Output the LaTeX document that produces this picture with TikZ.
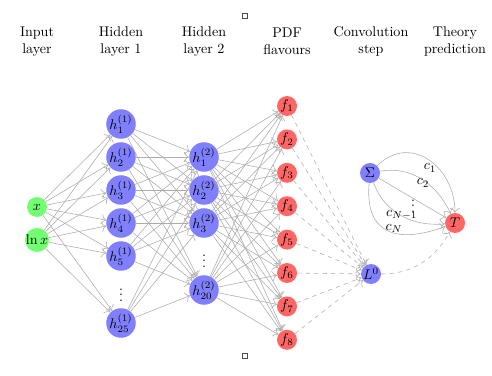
\documentclass[tikz,border=0pt]{standalone}
\usepackage{amsmath,amssymb}
\usepackage{xcolor}
\usetikzlibrary{arrows.meta}

\begin{document}
\begin{tikzpicture}[
  neu/.style={circle, minimum size=5mm, inner sep=0pt},
  inp/.style={neu, fill=green!55},
  hid/.style={circle, minimum size=6.7mm, inner sep=0pt, fill=blue!50},
  pdf/.style={neu, fill=red!60},
  ops/.style={neu, fill=blue!50},
  edge/.style={-{To[length=1.2mm]}, gray!65},
  dedge/.style={edge, dashed},
  head/.style={align=center},
  lbl/.style={inner sep=0pt},
  sqbox/.style={draw=black!70, minimum size=1.3mm, inner sep=0pt, thin}]
\useasboundingbox (0,0) rectangle (12.3,9.375);
% ---- headers ----
\node[head] (tin)   at (0.925,8.34)  {Input\\layer};
\node[head] (th1)   at (3.025,8.34)  {Hidden\\layer 1};
\node[head] (th2)   at (5.1,8.34)    {Hidden\\layer 2};
\node[head] (tpdf)  at (7.175,8.34)  {PDF\\flavours};
\node[head] (tconv) at (9.275,8.34)  {Convolution\\step};
\node[head] (tth)   at (11.375,8.34) {Theory\\prediction};
\node[sqbox] (sqtop) at (6.125,8.975) {};
\node[sqbox] (sqbot) at (6.125,0.475) {};
% ---- input layer ----
\node[inp] (x)   at (0.925,4.2)   {$x$};
\node[inp] (lnx) at (0.925,3.375) {$\ln x$};
% ---- hidden layer 1 ----
\node[hid] (hA1)  at (3.025,6.275) {$h^{(1)}_1$};
\node[hid] (hA2)  at (3.025,5.45)  {$h^{(1)}_2$};
\node[hid] (hA3)  at (3.025,4.625) {$h^{(1)}_3$};
\node[hid] (hA4)  at (3.025,3.8)   {$h^{(1)}_4$};
\node[hid] (hA5)  at (3.025,2.975) {$h^{(1)}_5$};
\node[lbl] (dA) at (3.025,2.1) {$\vdots$};
\node[hid] (hA25) at (3.025,1.3)   {$h^{(1)}_{25}$};
% ---- hidden layer 2 ----
\node[hid] (hB1)  at (5.1,5.45)  {$h^{(2)}_1$};
\node[hid] (hB2)  at (5.1,4.625) {$h^{(2)}_2$};
\node[hid] (hB3)  at (5.1,3.8)   {$h^{(2)}_3$};
\node[lbl] (dB) at (5.1,2.95) {$\vdots$};
\node[hid] (hB20) at (5.1,2.125) {$h^{(2)}_{20}$};
% ---- PDF flavours ----
\node[pdf] (f1) at (7.175,6.725) {$f_1$};
\node[pdf] (f2) at (7.175,5.89)  {$f_2$};
\node[pdf] (f3) at (7.175,5.055) {$f_3$};
\node[pdf] (f4) at (7.175,4.22)  {$f_4$};
\node[pdf] (f5) at (7.175,3.385) {$f_5$};
\node[pdf] (f6) at (7.175,2.55)  {$f_6$};
\node[pdf] (f7) at (7.175,1.715) {$f_7$};
\node[pdf] (f8) at (7.175,0.88)  {$f_8$};
% ---- convolution and prediction ----
\node[ops] (L0) at (9.275,2.525)  {$L^0$};
\node[ops] (S)  at (9.25,5.05)   {$\Sigma$};
\node[pdf] (T)  at (11.375,3.8) {$T$};
% ---- connections ----
\foreach \i in {x,lnx}
  \foreach \j in {1,2,3,4,5,25}
    \draw[edge] (\i) -- (hA\j);
\foreach \i in {1,2,3,4,5,25}
  \foreach \j in {1,2,3,20}
    \draw[edge] (hA\i) -- (hB\j);
\foreach \i in {1,2,3,20}
  \foreach \j in {1,...,8}
    \draw[edge] (hB\i) -- (f\j);
\foreach \j in {1,...,8}
  \draw[dedge] (f\j) -- (L0);
\draw[dedge] (L0) to[out=0, in=-120] (T);
% weighted sum over the N observables
\draw[edge] (S) to[out=45, in=90, looseness=1.3] (T);
\draw[edge] (S) to[out=10, in=115] (T);
\draw[edge] (S) -- (T);
\draw[edge] (S) to[out=-70, in=185] (T);
\draw[edge] (S) to[out=-95, in=200, looseness=1.5] (T);
\node[lbl] (lc1)  at (10.75,5.175) {$c_1$};
\node[lbl] (lc2)  at (10.575,4.8) {$c_2$};
\node[lbl] (dC) at (10.325,4.33) {$\vdots$};
\node[lbl] (lcN1) at (10.04,4.0) {$c_{N-1}$};
\node[lbl] (lcN)  at (9.85,3.66) {$c_N$};
\end{tikzpicture}
\end{document}
